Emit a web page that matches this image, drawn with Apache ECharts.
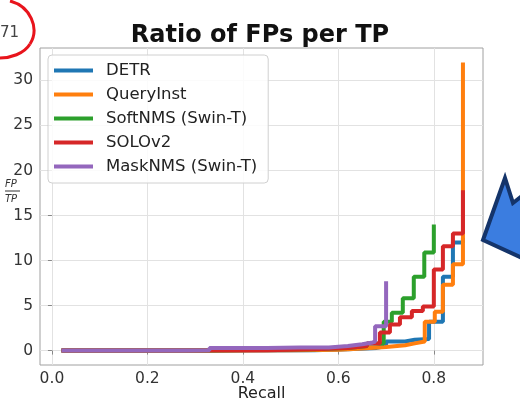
<!DOCTYPE html>
<html>
<head>
<meta charset="utf-8">
<script src="https://cdn.jsdelivr.net/npm/echarts@6/dist/echarts.min.js"></script>
<style>html,body{margin:0;padding:0;background:#fff;}#c{width:520px;height:400px;}</style>
</head>
<body>
<div id="c"></div>
<script>
// ---- data ----
const seriesNames = ['DETR', 'QueryInst', 'SoftNMS (Swin-T)', 'SOLOv2', 'MaskNMS (Swin-T)'];
const xTicks = [0, 0.2, 0.4, 0.6, 0.8];
const yTicks = [0, 5, 10, 15, 20, 25, 30];

const detrX = [0.02, 0.40, 0.55, 0.62, 0.68, 0.70, 0.74, 0.76, 0.79, 0.819, 0.840, 0.861];
const detrY = [0, 0.05, 0.15, 0.3, 0.5, 1.0, 1.2, 1.3, 3.2, 8.2, 12.0, 12.5];

const queryX = [0.02, 0.35, 0.50, 0.60, 0.64, 0.70, 0.74, 0.76, 0.781, 0.802, 0.819, 0.840, 0.861];
const queryY = [0, 0.05, 0.1, 0.2, 0.4, 0.6, 0.8, 1.0, 3.2, 4.3, 7.3, 9.6, 32];

const softX = [0.02, 0.20, 0.33, 0.45, 0.55, 0.62, 0.66, 0.695, 0.712, 0.735, 0.758, 0.780, 0.800];
const softY = [0, 0.02, 0.1, 0.15, 0.3, 0.5, 0.8, 3.2, 4.2, 5.8, 8.2, 10.9, 14.0];

const soloX = [0.02, 0.30, 0.45, 0.55, 0.62, 0.66, 0.687, 0.708, 0.729, 0.754, 0.777, 0.800, 0.819, 0.840, 0.861];
const soloY = [0, 0.05, 0.15, 0.3, 0.5, 0.8, 2.0, 2.9, 3.7, 4.4, 4.9, 9.0, 11.6, 13.0, 17.8];

const maskX = [0.02, 0.28, 0.33, 0.45, 0.52, 0.58, 0.62, 0.65, 0.672, 0.677, 0.700];
const maskY = [0, 0.05, 0.3, 0.35, 0.35, 0.5, 0.7, 0.9, 1.0, 2.7, 7.7];

const seriesX = [detrX, queryX, softX, soloX, maskX];
const seriesY = [detrY, queryY, softY, soloY, maskY];
const colors = ['#1f77b4', '#ff7f0e', '#2ca02c', '#d62728', '#9467bd'];

const FONT = 'DejaVu Sans';
const chart = echarts.init(document.getElementById('c'), null, {renderer: 'canvas'});

const series = seriesNames.map((name, i) => ({
  name: name,
  type: 'line',
  step: 'end',
  showSymbol: false,
  symbol: 'none',
  data: seriesX[i].map((x, j) => [x, seriesY[i][j]]),
  lineStyle: {width: 4, color: colors[i]},
  itemStyle: {color: colors[i]},
  z: 2 + i,
  animation: false
}));

chart.setOption({
  animation: false,
  backgroundColor: '#ffffff',
  textStyle: {fontFamily: FONT},
  title: {
    text: 'Ratio of FPs per TP',
    left: 'center',
    top: 19,
    textStyle: {fontFamily: FONT, fontSize: 24, fontWeight: 'bold', color: '#111'}
  },
  grid: {
    left: 40, right: 37, top: 48, bottom: 35,
    outerBoundsMode: 'none',
    containLabel: false,
    show: true, borderColor: '#a0a0a0', borderWidth: 1, backgroundColor: 'transparent'
  },
  legend: {
    data: seriesNames,
    orient: 'vertical',
    left: 48, top: 55,
    padding: [7, 11, 8, 6],
    itemWidth: 39, itemHeight: 4, itemGap: 7,
    icon: 'rect',
    backgroundColor: 'rgba(255,255,255,0.85)',
    borderColor: '#d0d0d0', borderWidth: 1, borderRadius: 4,
    textStyle: {fontFamily: FONT, fontSize: 16.5, color: '#222', lineHeight: 17, padding: [0, 0, 0, 8]}
  },
  xAxis: {
    type: 'value',
    min: -0.025, max: 0.903,
    axisLine: {show: false},
    axisTick: {show: true, customValues: xTicks, length: 4, lineStyle: {color: '#888'}},
    axisLabel: {customValues: xTicks, formatter: v => v.toFixed(1), fontFamily: FONT, fontSize: 15.5, color: '#333', margin: 6},
    splitLine: {show: true, lineStyle: {color: '#e2e2e2', width: 1}},
    name: 'Recall',
    nameLocation: 'middle',
    nameGap: 21,
    nameMoveOverlap: false,
    nameTextStyle: {fontFamily: FONT, fontSize: 16, color: '#222'}
  },
  yAxis: {
    type: 'value',
    min: -1.6, max: 33.6,
    axisLine: {show: false},
    axisTick: {show: true, customValues: yTicks, length: 4, lineStyle: {color: '#888'}},
    axisLabel: {customValues: yTicks, fontFamily: FONT, fontSize: 15.5, color: '#333', margin: 7},
    splitLine: {show: true, lineStyle: {color: '#e2e2e2', width: 1}}
  },
  graphic: [
    {type: 'text', x: 5, y: 179, style: {text: 'FP', font: 'italic 10px "DejaVu Sans"', fill: '#333'}},
    {type: 'line', shape: {x1: 5, y1: 191, x2: 20, y2: 191}, style: {stroke: '#333', lineWidth: 1}},
    {type: 'text', x: 5, y: 194, style: {text: 'TP', font: 'italic 10px "DejaVu Sans"', fill: '#333'}},
    {type: 'text', x: 0, y: 26, style: {text: '71', font: '15px "DejaVu Sans"', fill: '#444'}},
    {type: 'bezierCurve', shape: {x1: 10, y1: 1, cpx1: 30, cpy1: 6, cpx2: 40, cpy2: 28, x2: 30, y2: 44},
      style: {stroke: '#e8141c', lineWidth: 3, fill: null}},
    {type: 'bezierCurve', shape: {x1: 30, y1: 44, cpx1: 24, cpy1: 54, cpx2: 10, cpy2: 58, x2: 0, y2: 58},
      style: {stroke: '#e8141c', lineWidth: 3, fill: null}},
    {type: 'polygon', shape: {points: [[483, 240], [505, 178], [513, 203], [522, 196], [522, 258]]},
      style: {fill: '#3b7de0', stroke: '#14346a', lineWidth: 4, lineJoin: 'miter'}}
  ],
  series: series
});
</script>
</body>
</html>
